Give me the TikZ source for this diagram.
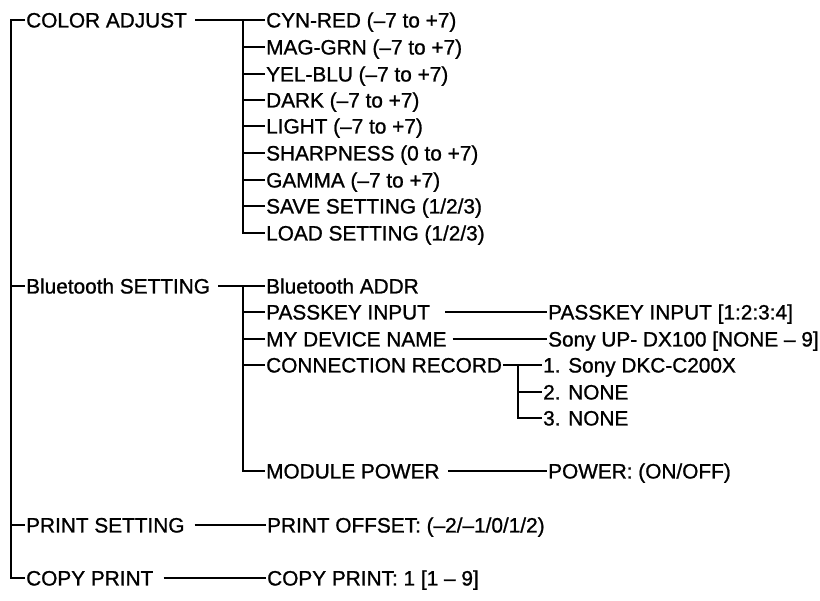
\documentclass[tikz,border=0pt]{standalone}
\usepackage{fontspec}
\setmainfont{Liberation Sans}[FakeBold=1]
\begin{document}
\begin{tikzpicture}[x=1pt,y=-1pt,
  lbl/.style={anchor=west,inner xsep=1pt,inner ysep=0pt,text height=15pt,text depth=0pt,font=\fontsize{20.8}{24}\selectfont},
  ln/.style={line width=1.7pt,line cap=butt}]
\useasboundingbox (0,0) rectangle (820,601);
% level 1
\node[lbl] (ca) at (25,20) {COLOR ADJUST};
\node[lbl] (bt) at (25,286) {Bluetooth SETTING};
\node[lbl] (ps) at (25,525) {PRINT SETTING};
\node[lbl] (cp) at (25,578) {COPY PRINT};
% colour adjust children
\node[lbl] (c1) at (265,20) {CYN-RED (–7 to +7)};
\node[lbl] (c2) at (265,47) {MAG-GRN (–7 to +7)};
\node[lbl] (c3) at (265,74) {YEL-BLU (–7 to +7)};
\node[lbl] (c4) at (265,100) {DARK (–7 to +7)};
\node[lbl] (c5) at (265,126) {LIGHT (–7 to +7)};
\node[lbl] (c6) at (265,153) {SHARPNESS (0 to +7)};
\node[lbl] (c7) at (265,180) {GAMMA (–7 to +7)};
\node[lbl] (c8) at (265,206) {SAVE SETTING (1/2/3)};
\node[lbl] (c9) at (265,233) {LOAD SETTING (1/2/3)};
% bluetooth children
\node[lbl] (b1) at (265,286) {Bluetooth ADDR};
\node[lbl] (b2) at (265,312) {PASSKEY INPUT};
\node[lbl] (b3) at (265,339) {MY DEVICE NAME};
\node[lbl] (b4) at (265,365) {CONNECTION RECORD};
\node[lbl] (b5) at (265,471) {MODULE POWER};
% bluetooth grandchildren
\node[lbl] (p1) at (547,312) {PASSKEY INPUT [1:2:3:4]};
\node[lbl] (m1) at (547,339) {Sony UP- DX100 [NONE – 9]};
\node[lbl] (r1) at (542,365) {1. Sony DKC-C200X};
\node[lbl] (r2) at (542,392) {2. NONE};
\node[lbl] (r3) at (542,418) {3. NONE};
\node[lbl] (w1) at (547,471) {POWER: (ON/OFF)};
% print / copy children
\node[lbl] (po) at (266,525) {PRINT OFFSET: (–2/–1/0/1/2)};
\node[lbl] (cc) at (266,578) {COPY PRINT: 1 [1 – 9]};
% bus coordinates
\coordinate (trunk) at (11,20);
\coordinate (busA) at (243,20);
\coordinate (busB) at (243,286);
\coordinate (busR) at (518,365);
% trunk
\draw[ln] (ca.west) -- (trunk) |- (cp.west);
\draw[ln] (bt.west -| trunk) -- (bt.west);
\draw[ln] (ps.west -| trunk) -- (ps.west);
% colour adjust
\draw[ln] ([xshift=7pt]ca.east) -- (c1.west);
\draw[ln] (busA) |- (c9.west);
\foreach \n in {c2,c3,c4,c5,c6,c7,c8} \draw[ln] (\n.west -| busA) -- (\n.west);
% bluetooth
\draw[ln] ([xshift=7pt]bt.east) -- (b1.west);
\draw[ln] (busB) |- (b5.west);
\foreach \n in {b2,b3,b4} \draw[ln] (\n.west -| busB) -- (\n.west);
\draw[ln] ([xshift=14pt]b2.east) -- (p1.west);
\draw[ln] ([xshift=5pt]b3.east) -- (m1.west);
\draw[ln] (b4.east) -- (r1.west);
\draw[ln] (busR) |- (r3.west);
\draw[ln] (r2.west -| busR) -- (r2.west);
\draw[ln] ([xshift=7pt]b5.east) -- (w1.west);
% print / copy
\draw[ln] ([xshift=9pt]ps.east) -- (po.west);
\draw[ln] ([xshift=9pt]cp.east) -- (cc.west);
\end{tikzpicture}
\end{document}
